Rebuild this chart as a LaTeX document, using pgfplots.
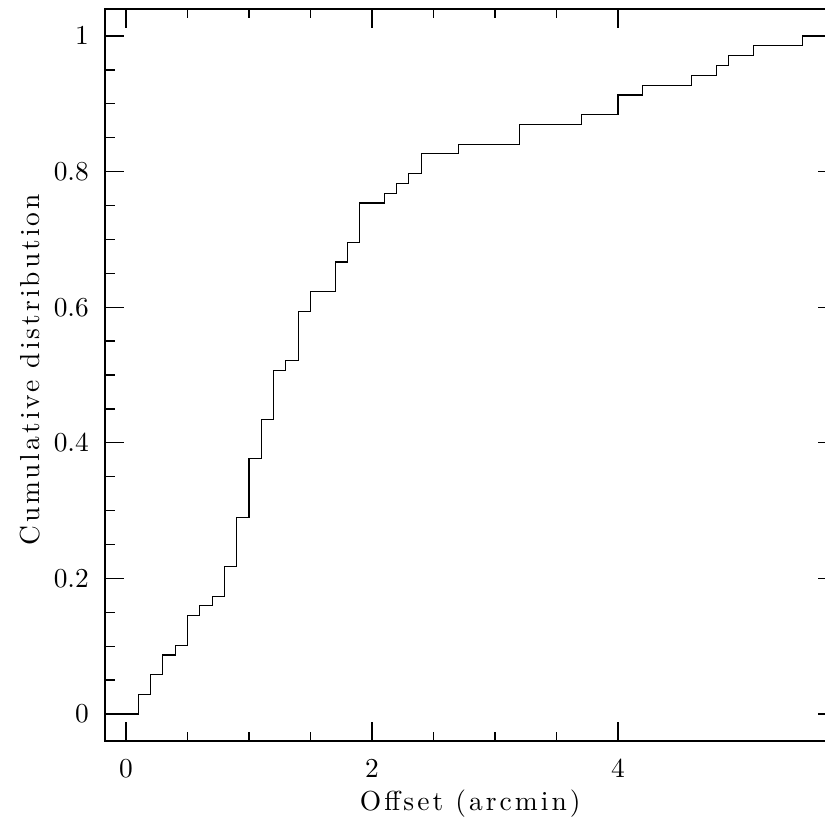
\documentclass[border=0pt]{standalone}
\usepackage{fontspec}
\newfontfamily\labelfont{Latin Modern Roman}[LetterSpace=11]
\usepackage{pgfplots}
\pgfplotsset{compat=1.18}
\begin{document}
\begin{tikzpicture}
\begin{axis}[
  x=49.2pt, y=271.2pt,
  xmin=-0.17, xmax=5.78, ymin=-0.04, ymax=1.04,
  axis line style={line width=0.8pt},
  xtick={0,2,4}, minor x tick num=3,
  ytick={0,0.2,0.4,0.6,0.8,1}, minor y tick num=3,
  tick align=inside, xtick pos=both, ytick pos=both,
  major tick length=7.6pt, minor tick length=3.8pt,
  tick style={line width=0.5pt, black},
  tick label style={font=\fontsize{11}{13}\selectfont},
  xticklabel style={yshift=-4pt},
  yticklabel style={xshift=-3pt},
  label style={font=\labelfont\fontsize{11}{13}\selectfont},
  xlabel={Offset (arcmin)},
  ylabel={Cumulative distribution},
  xlabel style={at={(axis description cs:0.499,-0.085)}, anchor=center},
  ylabel style={at={(axis description cs:-0.102,0.507)}, anchor=center, rotate=0},
]
\addplot[const plot, black, line width=0.45pt] coordinates {
(-0.2,0) (0.1,0.028986) (0.2,0.057971) (0.3,0.086957) (0.4,0.101449)
(0.5,0.144928) (0.6,0.159420) (0.7,0.173913) (0.8,0.217391) (0.9,0.289855)
(1.0,0.376812) (1.1,0.434783) (1.2,0.507246) (1.3,0.521739) (1.4,0.594203)
(1.5,0.623188) (1.7,0.666667) (1.8,0.695652) (1.9,0.753623) (2.1,0.768116)
(2.2,0.782609) (2.3,0.797101) (2.4,0.826087) (2.7,0.840580) (3.2,0.869565)
(3.7,0.884058) (4.0,0.913043) (4.2,0.927536) (4.6,0.942029) (4.8,0.956522)
(4.9,0.971014) (5.1,0.985507) (5.5,1.0) (5.9,1.0)
};
\coordinate (bbsw) at (axis cs:-1.0244,-0.1534);
\coordinate (bbne) at (axis cs:5.6829,1.0531);
\end{axis}
\pgfresetboundingbox
\useasboundingbox (bbsw) rectangle (bbne);
\end{tikzpicture}
\end{document}
